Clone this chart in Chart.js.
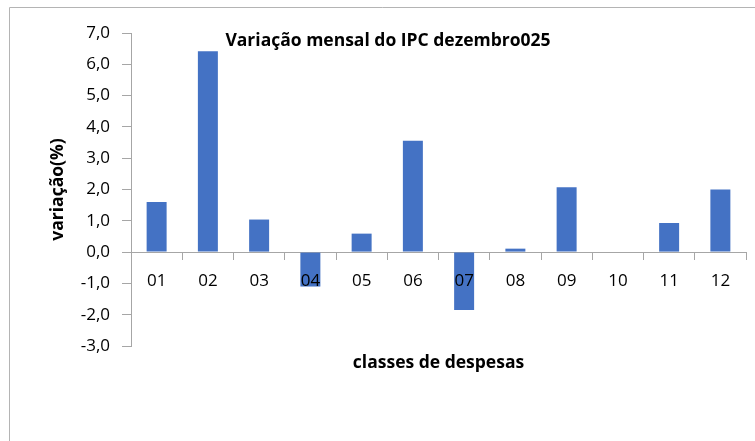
<!DOCTYPE html>
<html>
<head>
<meta charset="utf-8">
<script src="https://cdn.jsdelivr.net/npm/chart.js@4"></script>
<style>
  html, body { margin: 0; padding: 0; background: #ffffff; }
  #wrap { width: 755px; height: 441px; }
</style>
</head>
<body>
<div id="wrap"><canvas id="grafico" width="755" height="441"></canvas></div>
<script>
const classes = ["01", "02", "03", "04", "05", "06", "07", "08", "09", "10", "11", "12"];
const variacao = [1.6, 6.42, 1.04, -1.1, 0.59, 3.56, -1.85, 0.11, 2.07, 0.0, 0.93, 2.0];
const yMin = -3;
const yMax = 7;

const titulo = "Variação mensal do IPC dezembro025";
const tituloX = "classes de despesas";
const tituloY = "variação(%)";

const fonte = "'Open Sans', 'Noto Sans', sans-serif";

// moldura e títulos desenhados à mão
const extras = {
  id: "extras",
  afterDraw(chart) {
    const ctx = chart.ctx;
    const area = chart.chartArea;
    ctx.save();
    ctx.strokeStyle = "#b4b4b4";
    ctx.lineWidth = 1;
    ctx.beginPath();
    ctx.moveTo(9.5, 441);
    ctx.lineTo(9.5, 7.5);
    ctx.lineTo(755, 7.5);
    ctx.stroke();

    ctx.fillStyle = "#000000";
    ctx.textAlign = "center";
    ctx.textBaseline = "middle";
    ctx.font = "bold 17.5px " + fonte;
    ctx.fillText(titulo, 388, 41);
    ctx.fillText(tituloX, (area.left + area.right) / 2, 363);

    ctx.translate(58, (area.top + area.bottom) / 2);
    ctx.rotate(-Math.PI / 2);
    ctx.fillText(tituloY, 0, 0);
    ctx.restore();
  }
};

new Chart(document.getElementById("grafico"), {
  type: "bar",
  data: {
    labels: classes,
    datasets: [{
      data: variacao,
      backgroundColor: "#4472c4",
      categoryPercentage: 1,
      barPercentage: 0.39
    }]
  },
  options: {
    responsive: false,
    animation: false,
    layout: {
      padding: { left: 0, top: 33, right: 9, bottom: 95 }
    },
    plugins: {
      legend: { display: false },
      title: { display: false },
      tooltip: { enabled: false }
    },
    scales: {
      x: {
        position: { y: 0 },
        offset: true,
        grid: {
          display: true,
          drawOnChartArea: false,
          drawTicks: true,
          tickLength: 7,
          color: "#a6a6a6",
          offset: true
        },
        border: { display: true, color: "#a6a6a6", width: 1 },
        ticks: {
          z: 1,
          autoSkip: false,
          color: "#000000",
          padding: 12,
          font: { size: 17, family: fonte }
        }
      },
      y: {
        min: yMin,
        max: yMax,
        afterFit(scale) { scale.width = 131; },
        grid: {
          display: true,
          drawOnChartArea: false,
          drawTicks: true,
          tickLength: 9,
          color: "#a6a6a6"
        },
        border: { display: true, color: "#a6a6a6", width: 1 },
        ticks: {
          stepSize: 1,
          color: "#000000",
          padding: 12,
          font: { size: 17, family: fonte },
          callback: v => v.toFixed(1).replace(".", ",")
        }
      }
    }
  },
  plugins: [extras]
});
</script>
</body>
</html>
